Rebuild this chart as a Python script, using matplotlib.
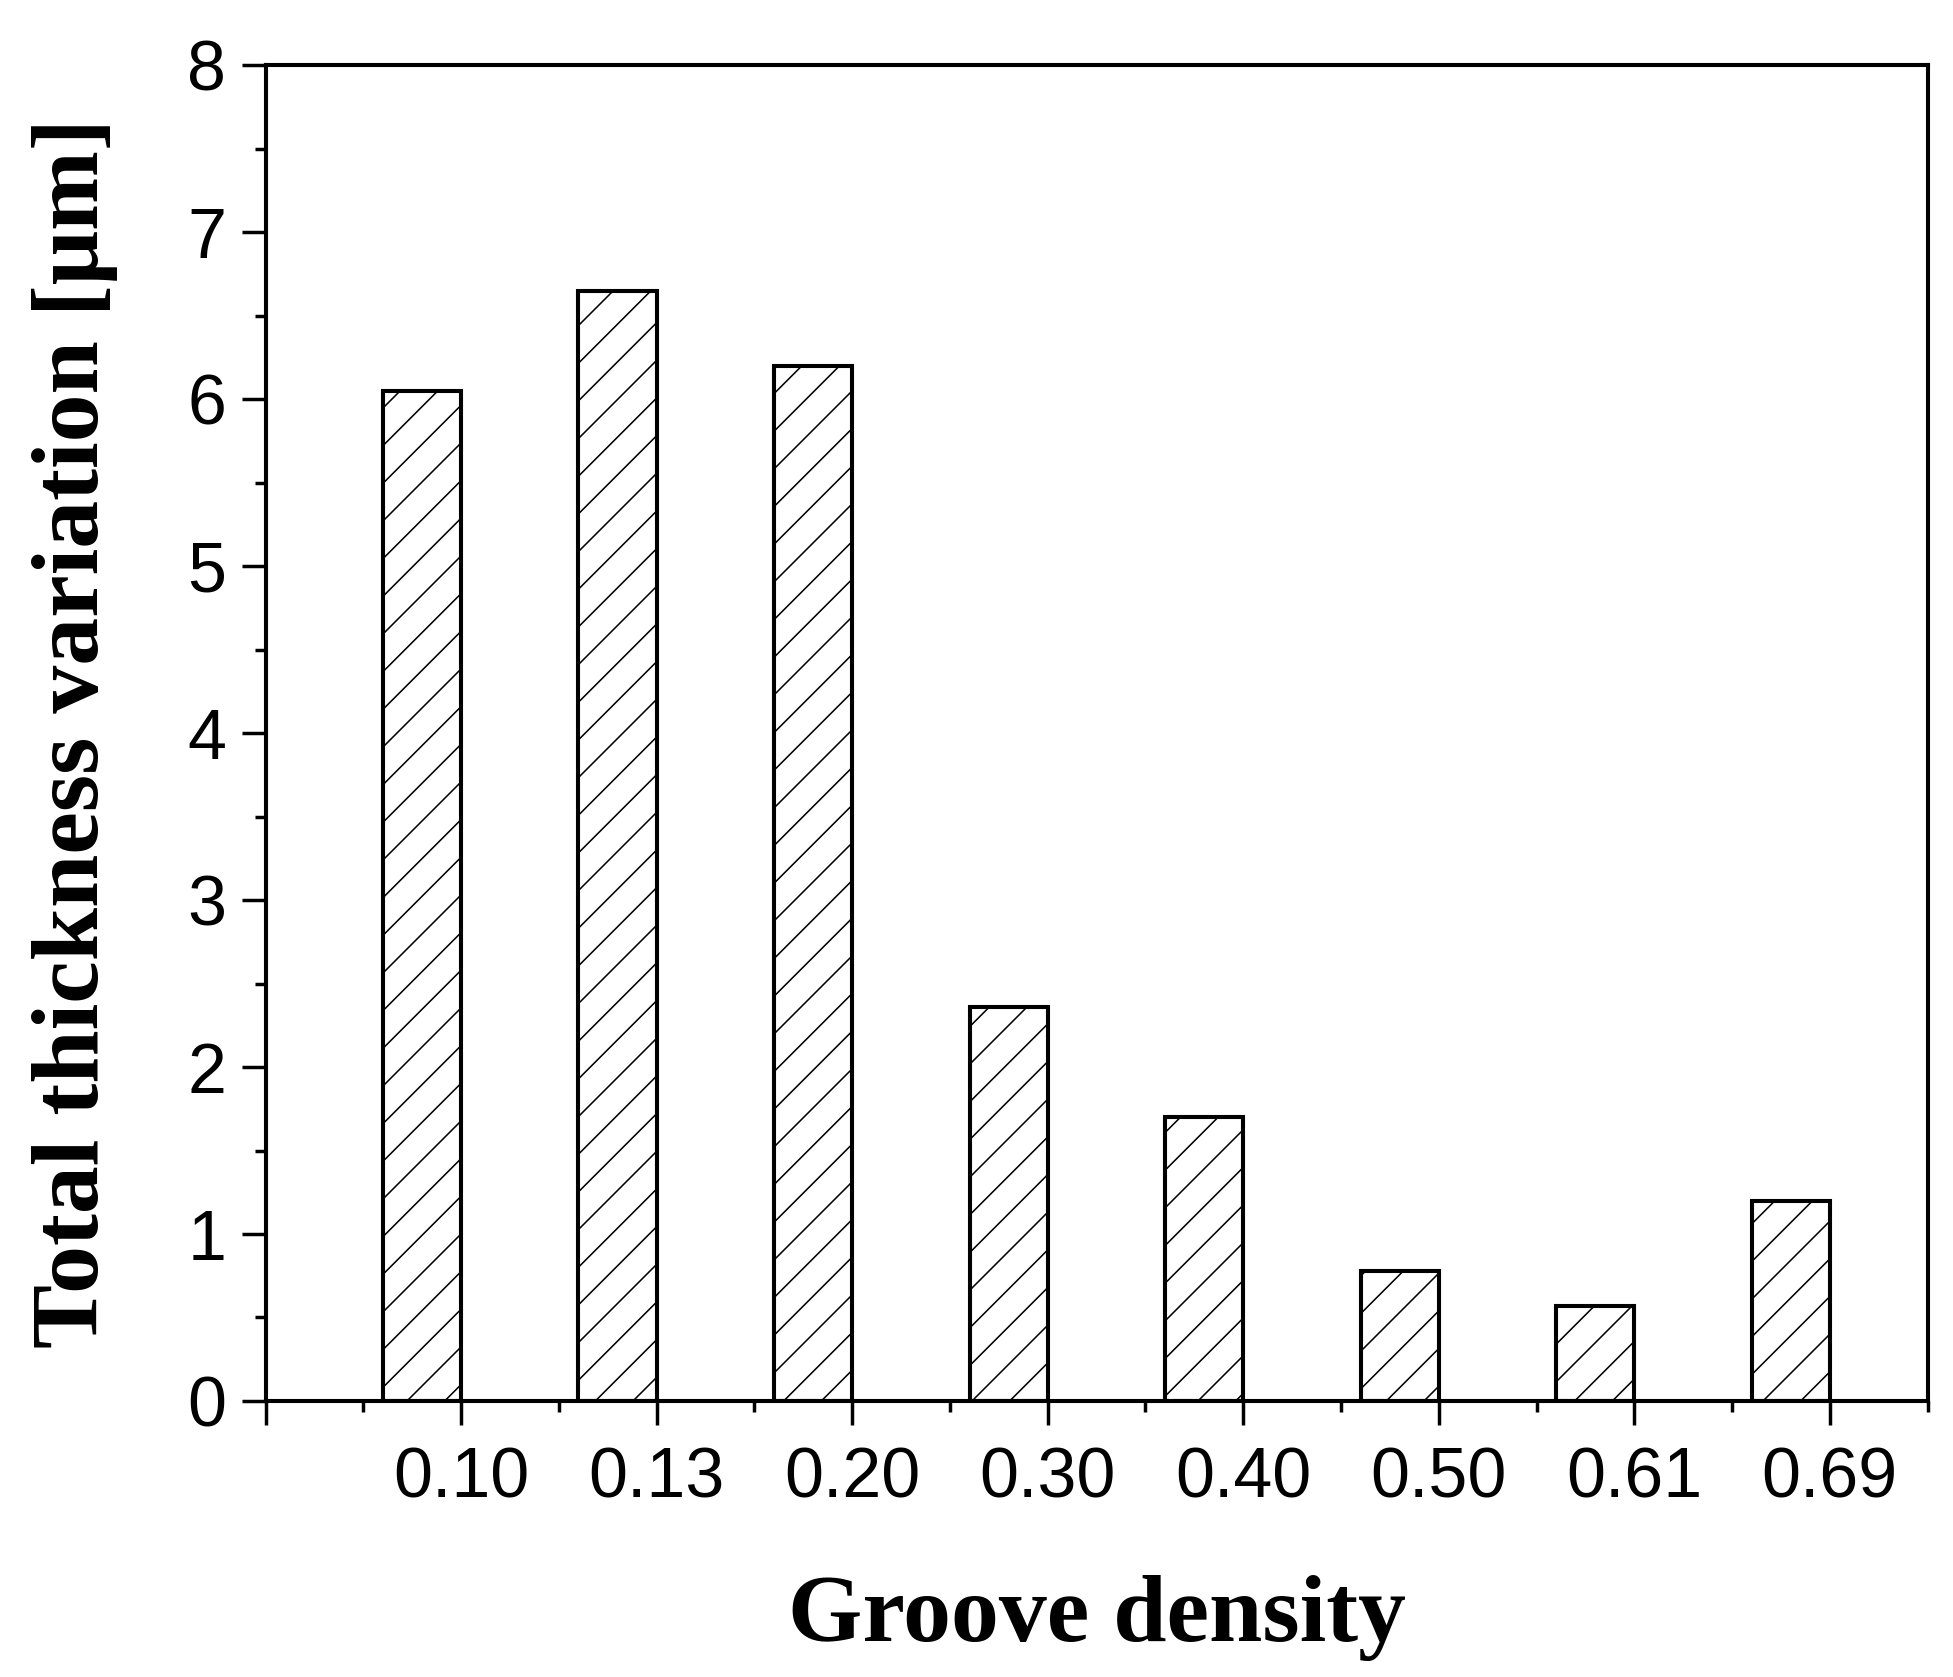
import numpy as np
import matplotlib
matplotlib.use("Agg")
import matplotlib.pyplot as plt
from matplotlib.ticker import MultipleLocator

# data
groove_density = ["0.10", "0.13", "0.20", "0.30", "0.40", "0.50", "0.61", "0.69"]
ttv = [6.05, 6.65, 6.20, 2.36, 1.70, 0.78, 0.57, 1.20]

plt.rcParams["hatch.linewidth"] = 0.5
plt.rcParams["font.family"] = ["Liberation Sans", "DejaVu Sans"]

dpi = 226
fig = plt.figure(figsize=(1953 / dpi, 1677 / dpi), dpi=dpi)
ax = fig.add_axes([0.136, 0.1646, 0.851, 0.7964])

pos = np.arange(1, len(ttv) + 1)
# bars sit to the left of their tick
ax.bar(pos, ttv, width=-0.4, align="edge", color="white", edgecolor="black",
       linewidth=1.3, hatch="//")

ax.set_xlim(0, 8.5)
ax.set_ylim(0, 8)
ax.set_xticks(np.arange(0, 9))
ax.set_xticklabels([""] + groove_density)
ax.xaxis.set_minor_locator(MultipleLocator(0.5))
ax.yaxis.set_major_locator(MultipleLocator(1))
ax.yaxis.set_minor_locator(MultipleLocator(0.5))

ax.tick_params(which="major", direction="out", length=7.5, width=1.1, labelsize=22.3)
ax.tick_params(which="minor", direction="out", length=3.5, width=1.1)
ax.tick_params(axis="x", which="major", pad=7)
ax.tick_params(axis="y", which="major", pad=5)
for s in ax.spines.values():
    s.set_linewidth(1.3)

ax.set_xlabel("Groove density", family=["Liberation Serif", "DejaVu Serif"],
              fontweight="bold", fontsize=30.5, labelpad=20)
ax.set_ylabel("Total thickness variation [μm]", family=["Liberation Serif", "DejaVu Serif"],
              fontweight="bold", fontsize=30.5, labelpad=22)

fig.savefig("out.png", dpi=dpi)
